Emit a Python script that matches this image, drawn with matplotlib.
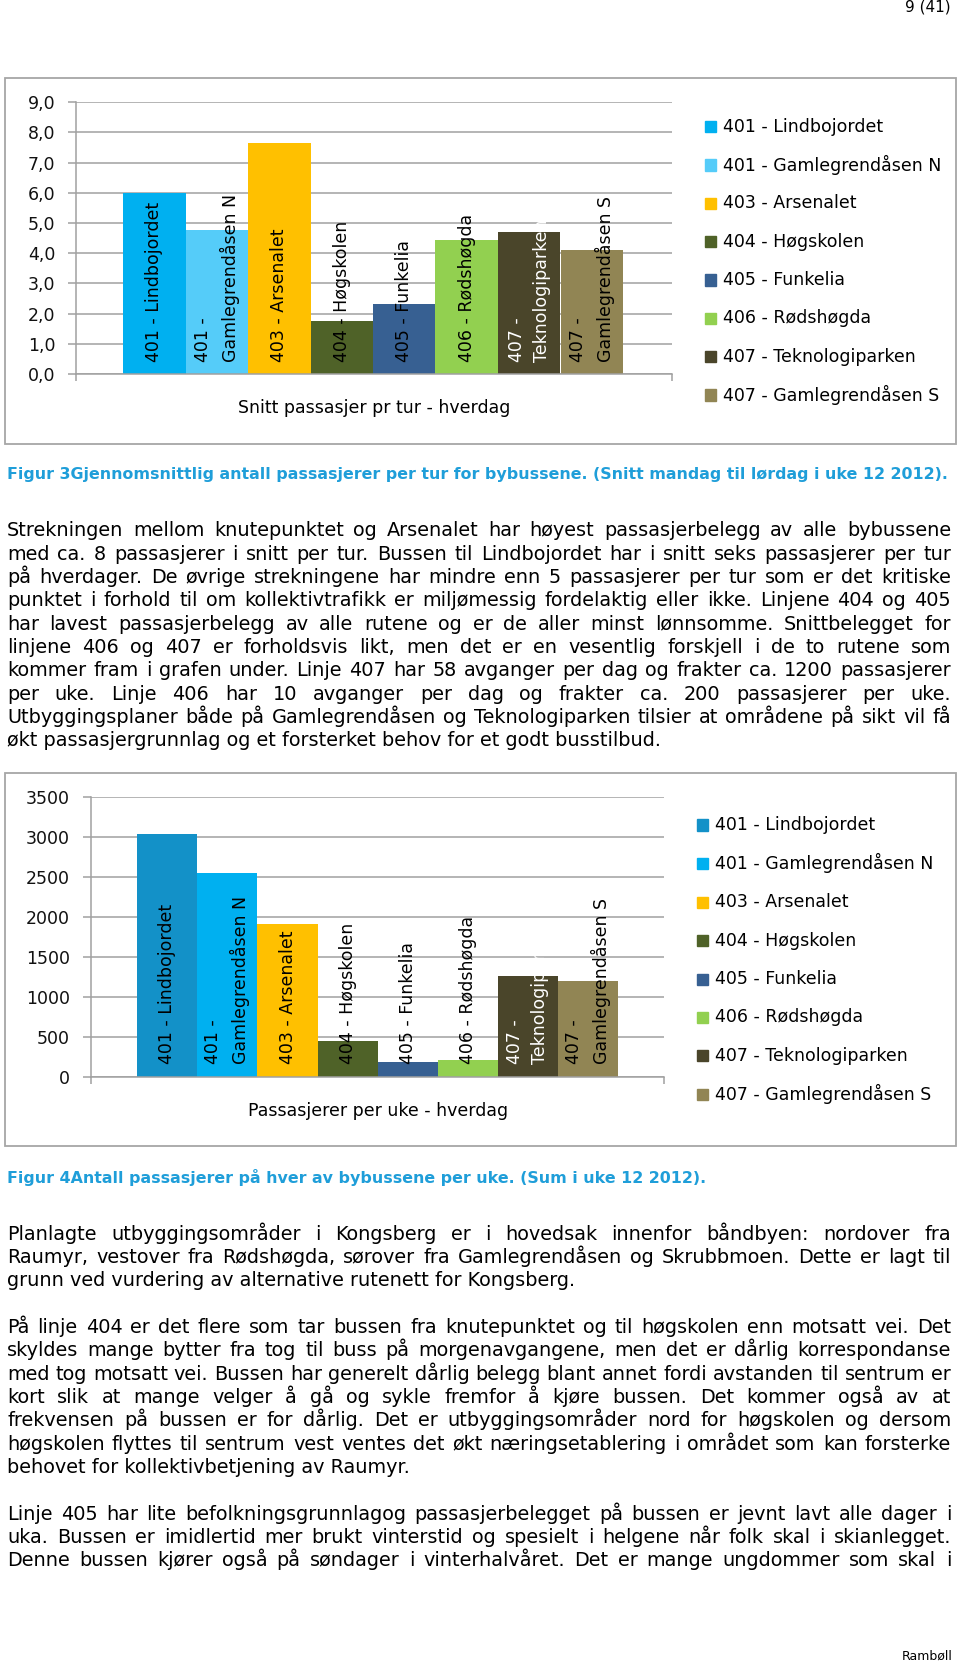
import numpy as np
import matplotlib
matplotlib.use("Agg")
import matplotlib.pyplot as plt
import matplotlib.transforms as mtransforms
from matplotlib.patches import Rectangle
from matplotlib.ticker import FuncFormatter

# ---- data -------------------------------------------------------------
routes = [
    "401 - Lindbojordet",
    "401 - Gamlegrendåsen N",
    "403 - Arsenalet",
    "404 - Høgskolen",
    "405 - Funkelia",
    "406 - Rødshøgda",
    "407 - Teknologiparken",
    "407 - Gamlegrendåsen S",
]
bar_texts = [
    "401 - Lindbojordet",
    "401 -\nGamlegrendåsen N",
    "403 - Arsenalet",
    "404 - Høgskolen",
    "405 - Funkelia",
    "406 - Rødshøgda",
    "407 -\nTeknologiparken",
    "407 -\nGamlegrendåsen S",
]
snitt_per_tur = [6.0, 4.77, 7.64, 1.75, 2.33, 4.43, 4.69, 4.11]
pass_per_uke = [3040, 2550, 1910, 450, 180, 210, 1260, 1200]

colors_fig3 = ["#00B0F0", "#55CCF9", "#FFC000", "#4F6228",
               "#376092", "#92D050", "#4A452A", "#918554"]
colors_fig4 = ["#1391C8", "#00B0F0", "#FFC000", "#4F6228",
               "#376092", "#92D050", "#4A452A", "#918554"]

caption3 = ("Figur 3Gjennomsnittlig antall passasjerer per tur for bybussene. "
            "(Snitt mandag til lørdag i uke 12 2012).")
caption4 = "Figur 4Antall passasjerer på hver av bybussene per uke. (Sum i uke 12 2012)."

para1 = [
    "Strekningen mellom knutepunktet og Arsenalet har høyest passasjerbelegg av alle bybussene",
    "med ca. 8 passasjerer i snitt per tur. Bussen til Lindbojordet har i snitt seks passasjerer per tur",
    "på hverdager. De øvrige strekningene har mindre enn 5 passasjerer per tur som er det kritiske",
    "punktet i forhold til om kollektivtrafikk er miljømessig fordelaktig eller ikke. Linjene 404 og 405",
    "har lavest passasjerbelegg av alle rutene og er de aller minst lønnsomme. Snittbelegget for",
    "linjene 406 og 407 er forholdsvis likt, men det er en vesentlig forskjell i de to rutene som",
    "kommer fram i grafen under. Linje 407 har 58 avganger per dag og frakter ca. 1200 passasjerer",
    "per uke. Linje 406 har 10 avganger per dag og frakter ca. 200 passasjerer per uke.",
    "Utbyggingsplaner både på Gamlegrendåsen og Teknologiparken tilsier at områdene på sikt vil få",
    "økt passasjergrunnlag og et forsterket behov for et godt busstilbud.",
]
para2 = [
    "Planlagte utbyggingsområder i Kongsberg er i hovedsak innenfor båndbyen: nordover fra",
    "Raumyr, vestover fra Rødshøgda, sørover fra Gamlegrendåsen og Skrubbmoen. Dette er lagt til",
    "grunn ved vurdering av alternative rutenett for Kongsberg.",
]
para3 = [
    "På linje 404 er det flere som tar bussen fra knutepunktet og til høgskolen enn motsatt vei. Det",
    "skyldes mange bytter fra tog til buss på morgenavgangene, men det er dårlig korrespondanse",
    "med tog motsatt vei. Bussen har generelt dårlig belegg blant annet fordi avstanden til sentrum er",
    "kort slik at mange velger å gå og sykle fremfor å kjøre bussen. Det kommer også av at",
    "frekvensen på bussen er for dårlig. Det er utbyggingsområder nord for høgskolen og dersom",
    "høgskolen flyttes til sentrum vest ventes det økt næringsetablering i området som kan forsterke",
    "behovet for kollektivbetjening av Raumyr.",
]
para4 = [
    "Linje 405 har lite befolkningsgrunnlagog passasjerbelegget på bussen er jevnt lavt alle dager i",
    "uka. Bussen er imidlertid mer brukt vinterstid og spesielt i helgene når folk skal i skianlegget.",
    "Denne bussen kjører også på søndager i vinterhalvåret. Det er mange ungdommer som skal i",
]

# ---- page setup -------------------------------------------------------
W, H = 960, 1666
plt.rcParams["font.family"] = ["DejaVu Sans"]
fig = plt.figure(figsize=(W / 100, H / 100), dpi=100)
fig.patch.set_facecolor("white")


def fx(px):
    return px / W


def fy(py):
    return 1 - py / H


GRID = "#A0A0A0"


def frame(x0, y0, x1, y1):
    fig.add_artist(Rectangle((fx(x0), fy(y1)), fx(x1) - fx(x0), fy(y0) - fy(y1),
                             transform=fig.transFigure, fill=False,
                             edgecolor="#A6A6A6", lw=1.3))


def bar_chart(rect, values, colors, ylim, yticks, fmt, xlim, label_off, title, title_xy,
              leg_x, leg_ys):
    ax = fig.add_axes(rect)
    x = np.arange(len(values)) + 0.5
    ax.bar(x, values, width=1.0, color=colors, zorder=2)
    ax.set_xlim(*xlim)
    ax.set_ylim(*ylim)
    ax.set_yticks(yticks)
    ax.yaxis.set_major_formatter(FuncFormatter(fmt))
    ax.yaxis.grid(True, color=GRID, lw=1.1, zorder=1)
    ax.set_axisbelow(True)
    ax.set_xticks(list(xlim))
    ax.set_xticklabels([])
    for s in ["top", "right"]:
        ax.spines[s].set_visible(False)
    for s in ["left", "bottom"]:
        ax.spines[s].set_color(GRID)
        ax.spines[s].set_linewidth(1.1)
    ax.tick_params(axis="y", length=6, width=1.1, color=GRID, pad=9, labelsize=12.5,
                   labelcolor="#111111")
    ax.tick_params(axis="x", length=5, width=1.1, color=GRID, direction="out")
    ax.patch.set_alpha(0)
    # labels inside the bars
    trans = mtransforms.offset_copy(ax.transData, fig=fig, x=0, y=label_off, units="dots")
    for i, (xi, txt) in enumerate(zip(x, bar_texts)):
        ax.text(xi, 0, txt, transform=trans, rotation=90, rotation_mode="anchor",
                ha="left", va="center", multialignment="left", fontsize=12.5,
                linespacing=1.5, color="white" if i == 6 else "black", zorder=3,
                clip_on=False)
    fig.text(fx(title_xy[0]), fy(title_xy[1]), title, ha="center", va="center",
             fontsize=12.5)
    # legend
    for name, c, ly in zip(routes, colors, leg_ys):
        fig.add_artist(Rectangle((fx(leg_x), fy(ly + 5.5)), 11 / W, 11 / H,
                                 transform=fig.transFigure, color=c))
        fig.text(fx(leg_x + 18), fy(ly), name, ha="left", va="center", fontsize=12.5)
    return ax


# figure 3
frame(5, 78, 956, 444)
bar_chart([fx(76), fy(374), (672 - 76) / W, (374 - 102.3) / H],
          snitt_per_tur, colors_fig3, (0, 9), np.arange(0, 10, 1),
          lambda v, p: f"{v:.1f}".replace(".", ","), (-0.752, 8.784), 12,
          "Snitt passasjer pr tur - hverdag", (374, 408),
          705, [126.7, 165, 203.3, 241.7, 280, 318.3, 356.7, 395])

# figure 4
frame(5, 773, 956, 1146)
bar_chart([fx(91), fy(1076.7), (664 - 91) / W, (1076.7 - 796.7) / H],
          pass_per_uke, colors_fig4, (0, 3500), np.arange(0, 3501, 500),
          lambda v, p: f"{v:.0f}", (-0.77, 8.765), 13,
          "Passasjerer per uke - hverdag", (378, 1111.5),
          697, [825, 863.3, 902.3, 940.7, 979, 1017.3, 1055.7, 1094])

# ---- document text ----------------------------------------------------
BODY = 13.85
renderer = fig.canvas.get_renderer()
X0, X1 = 7, 951
BASE = 6.5  # baseline sits this far below the line centre


def paragraph(lines, y0, dy=23.3, justify_last=False):
    for k, line in enumerate(lines):
        y = y0 + k * dy + BASE
        last = (k == len(lines) - 1) and not justify_last
        if last:
            fig.text(fx(X0), fy(y), line, ha="left", va="baseline", fontsize=BODY)
            continue
        words = line.split(" ")
        texts = [fig.text(0, fy(y), w, ha="left", va="baseline", fontsize=BODY)
                 for w in words]
        widths = [t.get_window_extent(renderer).width for t in texts]
        gap = (X1 - X0 - sum(widths)) / (len(words) - 1)
        pos = X0
        for t, w in zip(texts, widths):
            t.set_x(fx(pos))
            pos += w + gap


fig.text(fx(951), fy(7), "9 (41)", ha="right", va="center", fontsize=11)
fig.text(fx(X0), fy(474), caption3, ha="left", va="center", fontsize=11.4,
         fontweight="bold", color="#1F9ED9")
paragraph(para1, 530)
fig.text(fx(X0), fy(1178), caption4, ha="left", va="center", fontsize=11.4,
         fontweight="bold", color="#1F9ED9")
paragraph(para2, 1233.3)
paragraph(para3, 1326.7)
paragraph(para4, 1513.3, justify_last=True)
fig.text(fx(953), fy(1656), "Rambøll", ha="right", va="center", fontsize=9)

fig.savefig("out.png", dpi=100)
